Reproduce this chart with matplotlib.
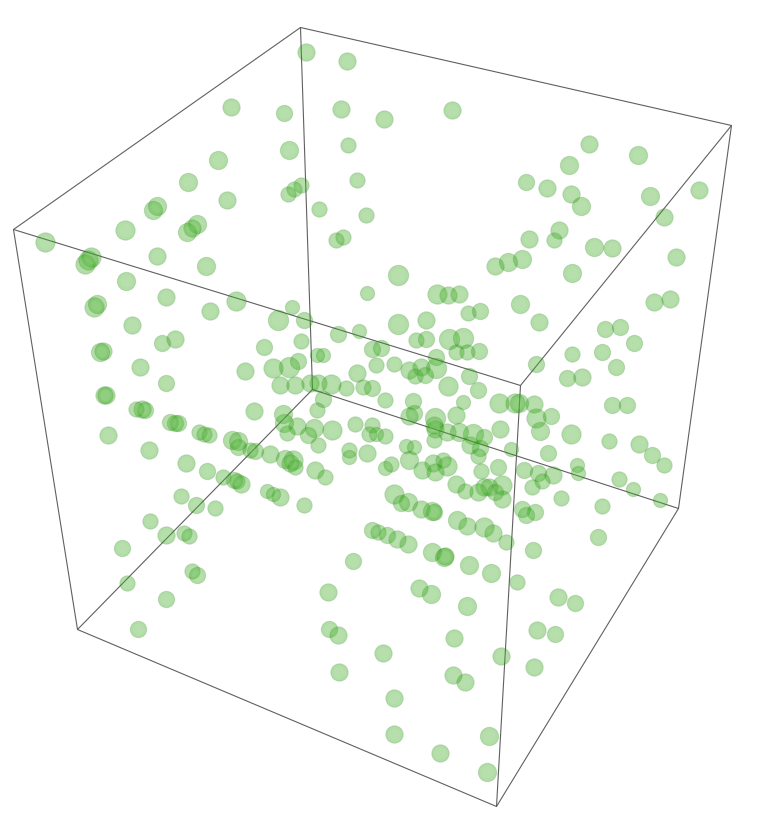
import matplotlib
matplotlib.use("Agg")
import matplotlib.pyplot as plt

# values (image pixels)
x = [306,347,231,284,341,384,452,348,289,218,589,638,569,357,301,294,288,188,227,157,
     153,319,366,526,547,571,581,650,699,664,197,192,187,125,45,336,343,529,559,554,
     594,612,676,157,91,88,85,206,495,508,522,572,398,126,367,437,448,459,166,236,
     97,94,292,654,670,520,210,278,304,468,480,426,132,398,539,605,620,338,359,175,
     162,264,301,416,426,449,463,372,381,456,467,479,634,602,572,103,100,317,323,298,
     376,394,436,536,140,616,245,273,289,357,409,421,415,425,436,469,567,582,166,280,
     295,310,318,331,346,363,372,448,478,104,106,323,385,413,463,499,515,519,534,612,
     627,254,317,283,136,142,145,170,175,178,409,414,435,456,536,551,284,297,314,332,
     355,372,369,376,385,287,308,434,435,447,459,473,484,470,500,540,571,609,639,108,
     199,204,209,232,238,238,250,255,270,149,318,406,414,434,349,367,349,480,478,511,
     548,652,664,285,293,290,295,186,391,385,409,443,433,447,422,435,498,481,524,538,
     553,577,578,207,315,325,223,234,237,241,542,532,619,456,465,489,478,484,495,502,
     502,394,633,267,273,280,181,561,660,401,408,421,432,434,196,215,304,522,535,526,
     602,457,467,484,493,150,372,378,387,397,408,506,166,184,189,598,122,432,444,445,
     533,353,469,491,192,197,127,517,419,431,558,328,166,575,467,138,329,338,537,555,
     454,383,501,534,339,453,465,394,394,489,440,487]
y = [52,61,107,113,109,119,110,145,150,160,144,155,165,180,185,189,194,182,200,206,
     210,209,215,182,188,194,206,196,190,217,224,228,232,230,242,240,237,239,230,240,
     247,248,257,256,257,260,264,266,266,262,259,273,275,281,293,294,295,294,297,301,
     304,307,307,302,299,304,311,320,320,313,311,320,325,324,322,329,327,334,331,339,
     343,347,341,340,339,339,338,349,348,352,352,351,343,352,354,351,352,355,355,361,
     365,364,357,364,367,367,371,368,367,373,370,367,376,375,368,376,378,377,383,385,
     385,383,383,384,388,387,388,386,390,395,395,399,400,401,402,403,403,403,404,405,
     405,411,410,414,409,409,410,422,423,423,416,413,418,415,418,416,423,426,428,430,
     424,425,434,434,436,433,435,425,429,432,432,434,437,445,429,431,434,441,444,435,
     432,434,435,440,441,447,450,451,454,450,445,446,447,440,450,453,457,448,456,449,
     453,455,465,459,460,463,467,463,464,468,460,460,463,466,470,472,467,471,470,473,
     475,465,473,471,470,477,477,480,481,484,481,487,479,484,491,487,492,487,492,485,
     499,494,489,491,494,497,496,498,500,503,502,509,511,512,505,508,505,509,512,515,
     506,520,526,527,533,521,530,532,535,539,544,542,535,533,536,537,548,552,557,556,
     550,561,565,573,571,575,583,582,588,594,597,592,599,603,606,629,629,635,630,634,
     638,653,656,667,672,675,682,698,734,736,753,772]
radius = [8,8,8,7.5,8,8,8,7,8.5,8.5,8,8.5,8.5,7,7,7,7,8.5,8,8.5,
          8.5,7,7,7.5,8,8,8.5,8.5,8,8,8.5,8,8.5,9,9,7,7,8,8,7,
          8.5,8,8,8,9,9,9,8.5,8,8.5,8.5,8.5,9.5,8.5,6.5,9,8,8,8,9,
          8.5,9,6.5,8,8,8.5,8,9.5,7.5,7,7.5,8,8,9.5,8,7.5,7.5,7.5,6.5,8,
          7.5,7.5,7,7,7.5,9.5,9.5,7.5,7.5,7,7,7.5,7.5,7.5,7,8,8.5,6.5,6.5,7.5,
          7,7,7.5,7.5,8,7.5,8,9,9.5,8,8,8,7,7.5,9.5,7.5,7.5,8,7.5,8,
          8,8,8,9,7,7,7.5,9,7.5,8,8,7.5,7,7.5,6.5,9,9,8.5,8,7.5,
          7.5,8,7,8.5,7,8,7.5,7.5,7.5,7.5,8,7.5,9.5,8,9,7.5,8.5,8,8.5,9,
          7,7,7,6.5,7,7,7.5,8,8,8,8.5,9.5,7.5,8,8,8.5,9,7,8,8,
          7,7,7,8.5,8.5,7.5,7,7.5,8,8,7,6.5,6.5,7,7,8,6.5,7.5,7,6.5,
          7.5,7.5,7,8.5,9,8,7,8,7,6.5,8.5,7,8,9,8,8,7.5,7,7.5,7.5,
          8,6.5,6.5,7.5,8,7,7,7.5,7,8,7,7,7,8,7,8,8,8,7.5,9,
          8,9,6.5,6.5,6.5,8,7,7,6.5,7.5,8.5,8,8.5,7.5,7.5,7,7,7.5,7.5,7.5,
          7,8.5,8,9,8,7,7.5,7,7.5,8,8,7,8,7,7,7.5,7.5,8.5,8.5,8,
          7.5,7.5,8.5,8.5,7,7.5,7,7,8,8.5,8,8,7.5,7.5,8.5,7.5,7.5,8,8,7.5,
          8,8,8,8,8,8,8,8,8,8.5,8,8.5]

# box corners
corner_x = [300, 731, 13, 520, 312, 678, 77, 496]
corner_y = [27, 125, 229, 385, 389, 508, 629, 806]
edges = [(0,1),(0,2),(1,3),(2,3),(0,4),(1,5),(2,6),(3,7),(4,5),(4,6),(5,7),(6,7)]

fig = plt.figure(figsize=(7.64, 8.26), dpi=100)
ax = fig.add_axes([0, 0, 1, 1])
ax.set_xlim(-0.5, 763.5)
ax.set_ylim(825.5, -0.5)
ax.axis("off")

for a, b in edges:
    ax.plot([corner_x[a], corner_x[b]], [corner_y[a], corner_y[b]],
            color="#606060", lw=0.8, zorder=1, solid_capstyle="round")

# radius px -> marker area in points^2, a little grown for the soft rim
sizes = [(2 * (r + 0.7) * 72 / 100) ** 2 for r in radius]
inner = [s * 0.45 for s in sizes]
ax.scatter(x, y, s=sizes, facecolors=(0.16, 0.64, 0.04, 0.36),
           edgecolors=(0.25, 0.5, 0.2, 0.22), linewidths=0.7, zorder=2)
ax.scatter(x, y, s=inner, color="white", alpha=0.07, linewidths=0, zorder=3)

fig.savefig("out.png", dpi=100)
